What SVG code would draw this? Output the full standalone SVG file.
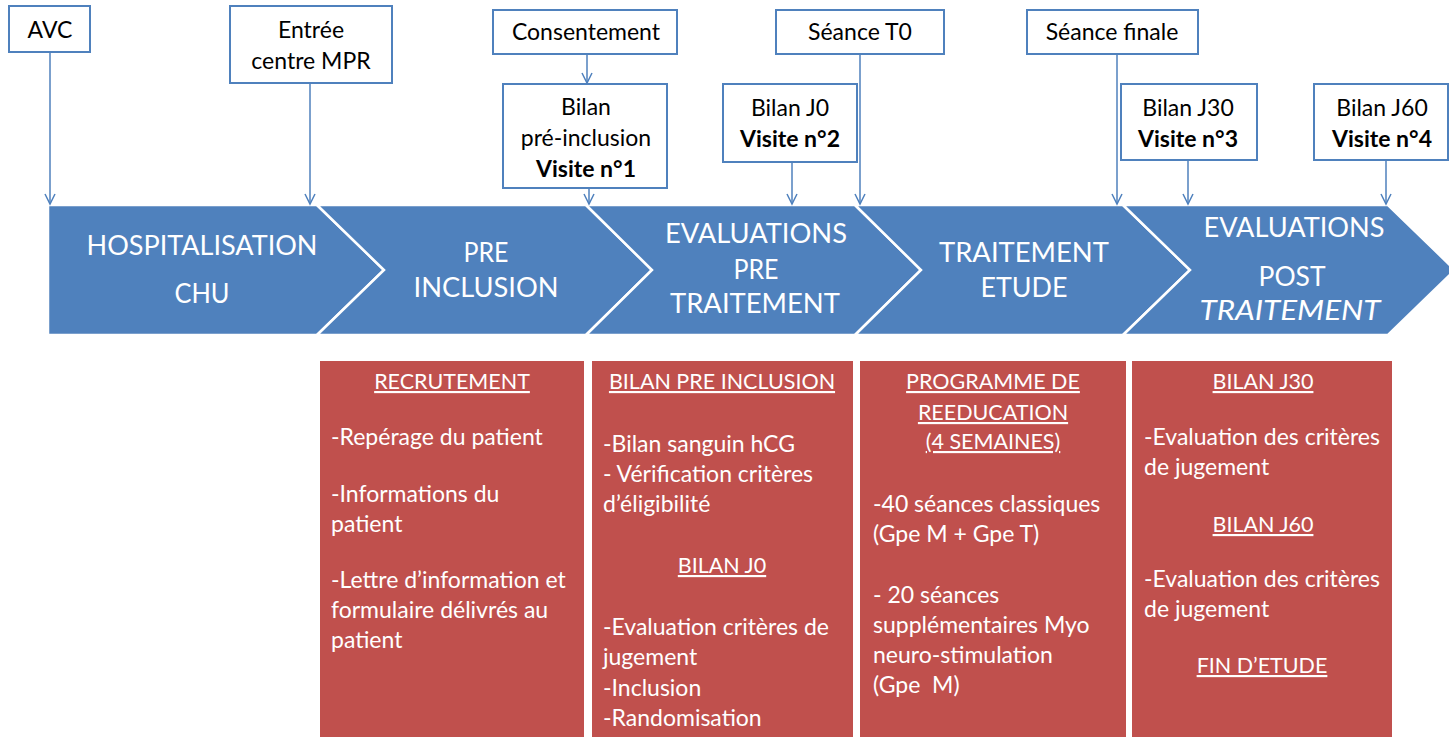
<svg xmlns="http://www.w3.org/2000/svg" width="1449" height="738" viewBox="0 0 1449 738">
<style>
.box{fill:#fff;stroke:#4F81BD;stroke-width:2}
.bt{font-family:Lato,"Liberation Sans",sans-serif;font-size:23px;fill:#000;text-anchor:middle}
.b{font-weight:bold}
.chev{fill:#4F81BD;stroke:#fff;stroke-width:2.5}
.ct{font-family:Lato,"Liberation Sans",sans-serif;font-size:27px;fill:#fff;text-anchor:middle}
.red{fill:#C0504D}
.rt{font-family:Lato,"Liberation Sans",sans-serif;font-size:23px;fill:#fff}
.h{text-anchor:middle;text-decoration:underline;font-size:21.5px}
.conn{stroke:#4F81BD;stroke-width:1.5;fill:none}
</style>
<defs>
<marker id="arr" markerUnits="userSpaceOnUse" markerWidth="14" markerHeight="12" viewBox="0 0 14 12" refX="12" refY="6" orient="auto">
<path d="M2,1 L12,6 L2,11" fill="none" stroke="#4F81BD" stroke-width="1.5"/>
</marker>
</defs>
<rect width="1449" height="738" fill="#fff"/>

<g id="band">
<polygon class="chev" points="48,205 317,205 384,270 317,335 48,335"/>
<polygon class="chev" points="317,205 586,205 652,270 586,335 317,335 384,270"/>
<polygon class="chev" points="586,205 855,205 921,270 855,335 586,335 652,270"/>
<polygon class="chev" points="855,205 1123,205 1190,270 1123,335 855,335 921,270"/>
<polygon class="chev" points="1123,205 1388,205 1455,270 1388,335 1123,335 1190,270"/>
</g>
<g id="phase-hospitalisation">
<text class="ct" x="202" y="255" textLength="231" lengthAdjust="spacingAndGlyphs">HOSPITALISATION</text>
<text class="ct" x="202" y="303" textLength="55" lengthAdjust="spacingAndGlyphs">CHU</text>
</g>
<g id="phase-preinclusion">
<text class="ct" x="486" y="262" textLength="45" lengthAdjust="spacingAndGlyphs">PRE</text>
<text class="ct" x="486" y="297" textLength="145" lengthAdjust="spacingAndGlyphs">INCLUSION</text>
</g>
<g id="phase-evalpre">
<text class="ct" x="756" y="243" textLength="182" lengthAdjust="spacingAndGlyphs">EVALUATIONS</text>
<text class="ct" x="756" y="279" textLength="45" lengthAdjust="spacingAndGlyphs">PRE</text>
<text class="ct" x="755" y="313" textLength="170" lengthAdjust="spacingAndGlyphs">TRAITEMENT</text>
</g>
<g id="phase-traitement">
<text class="ct" x="1024" y="262" textLength="170" lengthAdjust="spacingAndGlyphs">TRAITEMENT</text>
<text class="ct" x="1024" y="297" textLength="87" lengthAdjust="spacingAndGlyphs">ETUDE</text>
</g>
<g id="phase-evalpost">
<text class="ct" x="1294" y="237" textLength="181" lengthAdjust="spacingAndGlyphs">EVALUATIONS</text>
<text class="ct" x="1292" y="286" textLength="67" lengthAdjust="spacingAndGlyphs">POST</text>
<text class="ct" x="1290" y="320" textLength="181" lengthAdjust="spacingAndGlyphs" font-style="italic">TRAITEMENT</text>
</g>

<g id="connectors">
<line class="conn" x1="50" y1="52" x2="50" y2="204" marker-end="url(#arr)"/>
<line class="conn" x1="310" y1="83" x2="310" y2="204" marker-end="url(#arr)"/>
<line class="conn" x1="587" y1="54" x2="587" y2="83" marker-end="url(#arr)"/>
<line class="conn" x1="589" y1="188" x2="589" y2="204" marker-end="url(#arr)"/>
<line class="conn" x1="792" y1="162" x2="792" y2="204" marker-end="url(#arr)"/>
<line class="conn" x1="860" y1="54" x2="860" y2="204" marker-end="url(#arr)"/>
<line class="conn" x1="1117" y1="54" x2="1117" y2="204" marker-end="url(#arr)"/>
<line class="conn" x1="1188" y1="160" x2="1188" y2="204" marker-end="url(#arr)"/>
<line class="conn" x1="1386" y1="160" x2="1386" y2="204" marker-end="url(#arr)"/>
</g>

<g id="avc"><rect class="box" x="9" y="6" width="81" height="46"/><text class="bt" x="50" y="38">AVC</text></g>
<g id="entree"><rect class="box" x="230" y="6" width="162" height="77"/><text class="bt" x="311" y="38">Entrée</text><text class="bt" x="311" y="69">centre MPR</text></g>
<g id="consentement"><rect class="box" x="493" y="10" width="184" height="44"/><text class="bt" x="586" y="40">Consentement</text></g>
<g id="bilan-pre"><rect class="box" x="503" y="84" width="164" height="104"/><text class="bt" x="586" y="115">Bilan</text><text class="bt" x="586" y="146">pré-inclusion</text><text class="bt b" x="586" y="177">Visite n°1</text></g>
<g id="seance-t0"><rect class="box" x="776" y="10" width="168" height="44"/><text class="bt" x="860" y="40">Séance T0</text></g>
<g id="bilan-j0"><rect class="box" x="723" y="84" width="134" height="78"/><text class="bt" x="790" y="116">Bilan J0</text><text class="bt b" x="790" y="147">Visite n°2</text></g>
<g id="seance-finale"><rect class="box" x="1027" y="10" width="171" height="44"/><text class="bt" x="1112" y="40">Séance finale</text></g>
<g id="bilan-j30"><rect class="box" x="1121" y="84" width="136" height="76"/><text class="bt" x="1188" y="116">Bilan J30</text><text class="bt b" x="1188" y="147">Visite n°3</text></g>
<g id="bilan-j60"><rect class="box" x="1314" y="84" width="134" height="76"/><text class="bt" x="1382" y="116">Bilan J60</text><text class="bt b" x="1382" y="147">Visite n°4</text></g>

<g id="recrutement">
<rect class="red" x="320" y="361" width="264" height="376"/>
<text class="rt h" x="452" y="389">RECRUTEMENT</text>
<text class="rt" x="331" y="445">-Repérage du patient</text>
<text class="rt" x="331" y="502">-Informations du</text>
<text class="rt" x="331" y="532">patient</text>
<text class="rt" x="331" y="588">-Lettre d’information et</text>
<text class="rt" x="331" y="618">formulaire délivrés au</text>
<text class="rt" x="331" y="648">patient</text>
</g>
<g id="bilan-preinclusion">
<rect class="red" x="592" y="361" width="261" height="376"/>
<text class="rt h" x="722" y="389">BILAN PRE INCLUSION</text>
<text class="rt" x="603" y="452">-Bilan sanguin hCG</text>
<text class="rt" x="603" y="482">- Vérification critères</text>
<text class="rt" x="603" y="512">d’éligibilité</text>
<text class="rt h" x="722" y="573">BILAN J0</text>
<text class="rt" x="603" y="635">-Evaluation critères de</text>
<text class="rt" x="603" y="665">jugement</text>
<text class="rt" x="603" y="696">-Inclusion</text>
<text class="rt" x="603" y="726">-Randomisation</text>
</g>
<g id="programme">
<rect class="red" x="860" y="361" width="266" height="376"/>
<text class="rt h" x="993" y="389">PROGRAMME DE</text>
<text class="rt h" x="993" y="420">REEDUCATION</text>
<text class="rt h" x="993" y="449">(4 SEMAINES)</text>
<text class="rt" x="873" y="512">-40 séances classiques</text>
<text class="rt" x="873" y="542">(Gpe M + Gpe T)</text>
<text class="rt" x="873" y="603">- 20 séances</text>
<text class="rt" x="873" y="633">supplémentaires Myo</text>
<text class="rt" x="873" y="663">neuro-stimulation</text>
<text class="rt" x="873" y="693" xml:space="preserve">(Gpe  M)</text>
</g>
<g id="bilans-post">
<rect class="red" x="1132" y="361" width="260" height="376"/>
<text class="rt h" x="1263" y="389">BILAN J30</text>
<text class="rt" x="1144" y="445">-Evaluation des critères</text>
<text class="rt" x="1144" y="475">de jugement</text>
<text class="rt h" x="1263" y="532">BILAN J60</text>
<text class="rt" x="1144" y="587">-Evaluation des critères</text>
<text class="rt" x="1144" y="617">de jugement</text>
<text class="rt h" x="1262" y="673">FIN D’ETUDE</text>
</g>
</svg>
